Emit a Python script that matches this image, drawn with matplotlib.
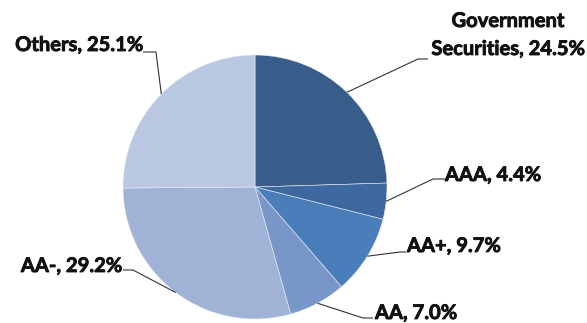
import numpy as np
import matplotlib.pyplot as plt
import matplotlib.patheffects as pe

# Portfolio breakdown by rating (percent of holdings)
categories = ["Government\nSecurities", "AAA", "AA+", "AA", "AA-", "Others"]
shares = [24.5, 4.4, 9.7, 7.0, 29.2, 25.1]
colors = ["#385d8a", "#3e69a0", "#4a7ebb", "#7896c8", "#a0b3d6", "#bac7e0"]

# Label layout in pixel units (y up): text anchor, leader elbow, leader end, alignment
LABEL_POS = [
    ((508, 288), (418, 264), (428, 264), "center"),
    ((445, 148), (433, 144), (445, 144), "left"),
    ((407, 77), (400, 71), (406, 71), "left"),
    ((375, 10), (363, 5), (373, 5), "left"),
    ((122, 57), (133, 53), (123, 53), "right"),
    ((143, 278), (156, 271), (143, 271), "right"),
]

W, H = 587, 323
CENTER = (255, 136)
RADIUS = 132

fig = plt.figure(figsize=(W / 100, H / 100), dpi=100)
ax = fig.add_axes([0, 0, 1, 1])

wedges, _ = ax.pie(
    shares,
    colors=colors,
    startangle=90,
    counterclock=False,
    center=CENTER,
    radius=RADIUS,
    wedgeprops=dict(edgecolor="#e8edf5", linewidth=0.4),
)

# slightly heavier strokes for the bold labels
bolder = [pe.withStroke(linewidth=0.6, foreground="#111111")]

for w, cat, val, (txt, elbow, end, ha) in zip(wedges, categories, shares, LABEL_POS):
    mid = np.deg2rad((w.theta1 + w.theta2) / 2)
    start = (CENTER[0] + RADIUS * np.cos(mid), CENTER[1] + RADIUS * np.sin(mid))
    xs = [start[0], elbow[0], end[0]]
    ys = [start[1], elbow[1], end[1]]
    ax.plot(xs, ys, color="#333333", linewidth=0.8, solid_capstyle="butt")
    ax.text(txt[0], txt[1], f"{cat}, {val:.1f}%", ha=ha, va="center",
            fontsize=14.5, fontweight="bold", family="Lato", color="#111111",
            linespacing=1.5, path_effects=bolder)

ax.set_xlim(0, W)
ax.set_ylim(0, H)
ax.set_aspect("equal")
ax.axis("off")

fig.savefig("out.png", dpi=100, facecolor="white")
